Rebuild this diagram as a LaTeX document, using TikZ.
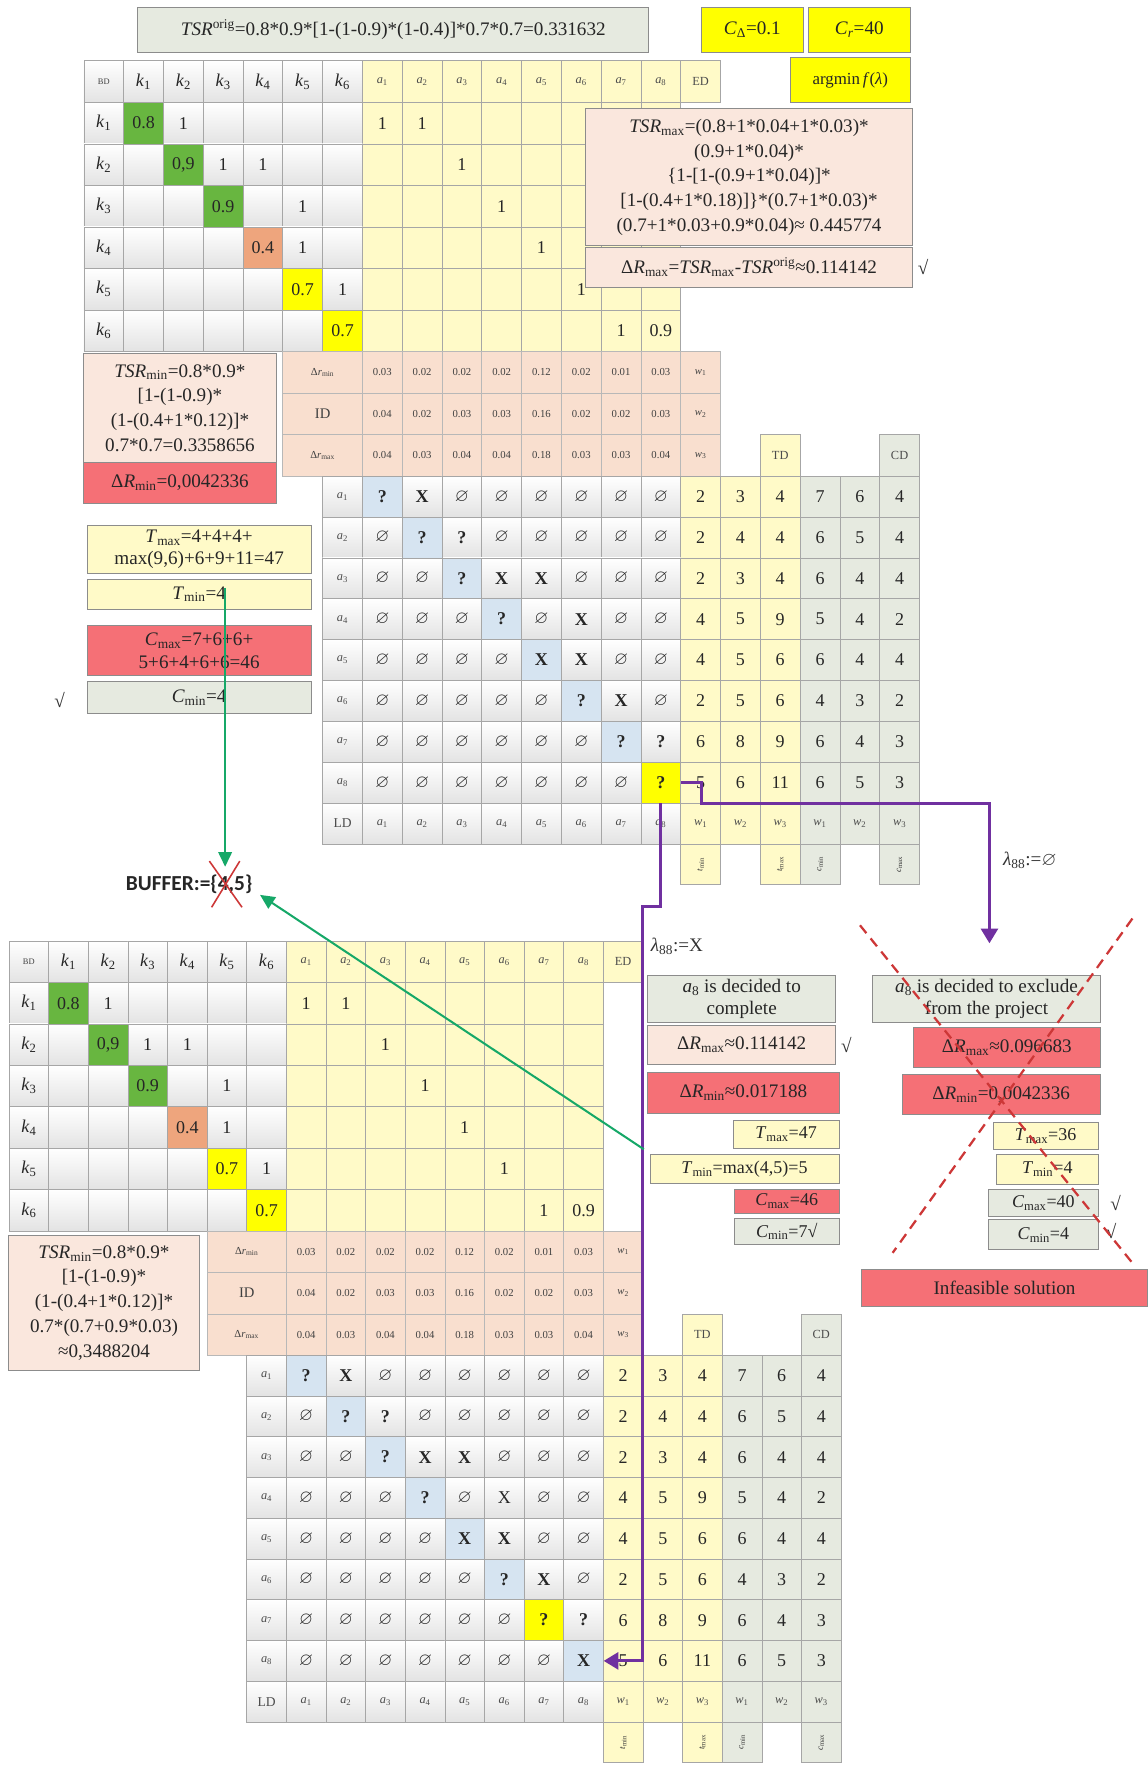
\documentclass[tikz,border=0pt]{standalone}
\usepackage{fontspec}
\usepackage{amssymb}
\setmainfont{Liberation Serif}
\newfontfamily\buffont{Carlito}
\usetikzlibrary{arrows.meta,calc}
\definecolor{cgreen}{RGB}{104,182,64}
\definecolor{corange}{RGB}{238,165,125}
\definecolor{cyel}{RGB}{255,255,0}
\definecolor{lyel}{RGB}{255,250,200}
\definecolor{peach}{RGB}{249,223,207}
\definecolor{peachL}{RGB}{250,231,221}
\definecolor{cred}{RGB}{245,112,118}
\definecolor{cgray}{RGB}{230,234,224}
\definecolor{cblue}{RGB}{214,228,241}
\definecolor{cpurple}{RGB}{112,48,160}
\definecolor{cgl}{RGB}{22,168,104}
\definecolor{cdash}{RGB}{205,55,55}
\newcommand\sbs[1]{\textsubscript{#1}}
\newcommand\dq{\textbf{?}}
\newcommand\dx{\textbf{X}}
\newcommand\dxl{X}
\newcommand\de{$\varnothing$}
\tikzset{
  gcell/.style={draw=black!35,line width=0.6pt,top color=white,bottom color=black!11,inner sep=0pt},
  ycell/.style={draw=black!35,line width=0.6pt,fill=lyel,inner sep=0pt},
  pcell/.style={draw=black!28,line width=0.6pt,fill=peach,inner sep=0pt},
  ccell/.style={draw=black!35,line width=0.6pt,fill=cgray,inner sep=0pt},
  solid/.style={draw=black!35,line width=0.6pt,inner sep=0pt},
  big/.style={font=\fontsize{16}{16}\selectfont,text=black!85,inner sep=0pt},
  sml/.style={font=\fontsize{11}{11}\selectfont,text=black!70,inner sep=0pt},
  tny/.style={font=\fontsize{9.5}{9.5}\selectfont,text=black!75,inner sep=0pt},
  rot/.style={font=\fontsize{8}{8}\selectfont,text=black!80,rotate=90,inner sep=0pt},
  box/.style={draw=black!45,line width=0.8pt,inner sep=0pt,align=center,text=black!85,font=\fontsize{17}{22}\selectfont},
  purp/.style={draw=cpurple,line width=2.6pt,-{Triangle[length=13pt,width=15pt]}},
  grn/.style={draw=cgl,line width=1.8pt,-{Triangle[length=13pt,width=12pt]}},
  crossl/.style={draw=cdash,line width=2pt,dash pattern=on 9pt off 6pt},
  lbl/.style={font=\fontsize{17}{17}\selectfont,text=black!80,inner sep=0pt},
}
\newcommand\mkcell[5]{%
  \pgfmathsetmacro\cx{\XO+(#2+0.5)*\CW}%
  \pgfmathsetmacro\cy{#3+0.5*#4}%
  \pgfmathsetmacro\hh{#4}%
  \node[#5,minimum width=\CW pt,minimum height=\hh pt] (#1) at (\cx,\cy) {};}
\newcommand\bx[7]{%
  \pgfmathsetmacro\bw{#4-#2}\pgfmathsetmacro\bh{#5-#3}%
  \node[box,#6,minimum width=\bw pt,minimum height=\bh pt,anchor=north west] (#1) at (#2,#3) {#7};}
\newcommand\drrow[4]{%
  \pgfmathsetmacro\yt{\YO+#1*\RH}%
  \pgfmathsetmacro\lx{\XO+6*\CW}\pgfmathsetmacro\lw{2*\CW}\pgfmathsetmacro\cyy{\yt+0.5*\RH}%
  \node[pcell,minimum width=\lw pt,minimum height=\RH pt] (\pfx-r#1-L) at (\lx,\cyy) {};%
  \node[tny] at (\pfx-r#1-L) {#2};%
  \foreach \vv [count=\j from 7] in {#4} {\mkcell{\pfx-r#1-\j}{\j}{\yt}{\RH}{pcell}\node[tny] at (\pfx-r#1-\j) {\vv};}%
  \mkcell{\pfx-r#1-15}{15}{\yt}{\RH}{pcell}\node[tny] at (\pfx-r#1-15) {\textit{w}\sbs{#3}};}
\newcommand\dsmrow[2]{\foreach \vv [count=\j from 7] in {#2} {\node[big] at (\pfx-d#1-\j) {\vv};}}
\newcommand\drawsection{%
  \foreach \r in {0,...,6}{%
    \pgfmathsetmacro\yt{\YO+\r*\RH}%
    \foreach \c in {0,...,6}{\mkcell{\pfx-r\r-\c}{\c}{\yt}{\RH}{gcell}}%
    \foreach \c in {7,...,14}{\mkcell{\pfx-r\r-\c}{\c}{\yt}{\RH}{ycell}}%
  }%
  \mkcell{\pfx-r0-15}{15}{\YO}{\RH}{ycell}%
  \mkcell{\pfx-g1}{1}{\YO+1*\RH}{\RH}{solid,fill=cgreen}%
  \mkcell{\pfx-g2}{2}{\YO+2*\RH}{\RH}{solid,fill=cgreen}%
  \mkcell{\pfx-g3}{3}{\YO+3*\RH}{\RH}{solid,fill=cgreen}%
  \mkcell{\pfx-g4}{4}{\YO+4*\RH}{\RH}{solid,fill=corange}%
  \mkcell{\pfx-g5}{5}{\YO+5*\RH}{\RH}{solid,fill=cyel}%
  \mkcell{\pfx-g6}{6}{\YO+6*\RH}{\RH}{solid,fill=cyel}%
  \node[tny] at (\pfx-r0-0) {\fontsize{7.5}{8}\selectfont BD};%
  \foreach \c in {1,...,6}{\node[big] at (\pfx-r0-\c) {\textit{k}\sbs{\c}};\node[big] at (\pfx-r\c-0) {\textit{k}\sbs{\c}};}%
  \foreach \c [evaluate=\c as \n using int(\c-6)] in {7,...,14}{\node[sml] at (\pfx-r0-\c) {\textit{a}\sbs{\n}};}%
  \node[sml] at (\pfx-r0-15) {ED};%
  \foreach \r/\c/\tv in {1/1/0.8,1/2/1,1/7/1,1/8/1,2/2/{0,9},2/3/1,2/4/1,2/9/1,3/3/0.9,3/5/1,3/10/1,4/4/0.4,4/5/1,4/11/1,5/5/0.7,5/6/1,5/12/1,6/6/0.7,6/13/1,6/14/0.9}{\node[big] at (\pfx-r\r-\c) {\tv};}%
  \drrow{7}{Δ\textit{r}\sbs{min}}{1}{0.03,0.02,0.02,0.02,0.12,0.02,0.01,0.03}%
  \drrow{8}{\fontsize{13}{13}\selectfont ID}{2}{0.04,0.02,0.03,0.03,0.16,0.02,0.02,0.03}%
  \drrow{9}{Δ\textit{r}\sbs{max}}{3}{0.04,0.03,0.04,0.04,0.18,0.03,0.03,0.04}%
  \mkcell{\pfx-TD}{17}{\YO+9*\RH}{\RH}{ycell}\node[sml] at (\pfx-TD) {TD};%
  \mkcell{\pfx-CD}{20}{\YO+9*\RH}{\RH}{ccell}\node[sml] at (\pfx-CD) {CD};%
  \foreach \i in {1,...,9}{%
    \pgfmathsetmacro\yt{\YA+(\i-1)*\AH}%
    \foreach \c in {6,...,14}{\mkcell{\pfx-d\i-\c}{\c}{\yt}{\AH}{gcell}}%
    \foreach \c in {15,16,17}{\mkcell{\pfx-d\i-\c}{\c}{\yt}{\AH}{ycell}}%
    \foreach \c in {18,19,20}{\mkcell{\pfx-d\i-\c}{\c}{\yt}{\AH}{ccell}}%
  }%
  \pgfmathsetmacro\yt{\YA+9*\AH}%
  \mkcell{\pfx-d10-15}{15}{\yt}{\AH}{ycell}%
  \mkcell{\pfx-d10-17}{17}{\yt}{\AH}{ycell}%
  \mkcell{\pfx-d10-18}{18}{\yt}{\AH}{ccell}%
  \mkcell{\pfx-d10-20}{20}{\yt}{\AH}{ccell}%
  \foreach \i in {1,...,8}{\pgfmathsetmacro\yt{\YA+(\i-1)*\AH}\mkcell{\pfx-dg\i}{\i+6}{\yt}{\AH}{solid,fill=cblue}}%
  \pgfmathsetmacro\yt{\YA+(\hlrow-1)*\AH}%
  \mkcell{\pfx-hl}{\hlrow+6}{\yt}{\AH}{solid,fill=cyel}%
  \foreach \i in {1,...,8}{\node[sml] at (\pfx-d\i-6) {\textit{a}\sbs{\i}};}%
  \node[sml,font=\fontsize{12}{12}\selectfont] at (\pfx-d9-6) {LD};%
  \foreach \c [evaluate=\c as \n using int(\c-6)] in {7,...,14}{\node[sml] at (\pfx-d9-\c) {\textit{a}\sbs{\n}};}%
  \foreach \ww [count=\c from 15] in {1,2,3,1,2,3}{\node[sml] at (\pfx-d9-\c) {\textit{w}\sbs{\ww}};}%
  \dsmrow{1}{\dq,\dx,\de,\de,\de,\de,\de,\de,2,3,4,7,6,4}%
  \dsmrow{2}{\de,\dq,\dq,\de,\de,\de,\de,\de,2,4,4,6,5,4}%
  \dsmrow{3}{\de,\de,\dq,\dx,\dx,\de,\de,\de,2,3,4,6,4,4}%
  \dsmrow{4}{\de,\de,\de,\dq,\de,\symfoursix,\de,\de,4,5,9,5,4,2}%
  \dsmrow{5}{\de,\de,\de,\de,\dx,\dx,\de,\de,4,5,6,6,4,4}%
  \dsmrow{6}{\de,\de,\de,\de,\de,\dq,\dx,\de,2,5,6,4,3,2}%
  \dsmrow{7}{\de,\de,\de,\de,\de,\de,\dq,\dq,6,8,9,6,4,3}%
  \dsmrow{8}{\de,\de,\de,\de,\de,\de,\de,\symeight,5,6,11,6,5,3}%
  \node[rot] at (\pfx-d10-15) {\textit{t}\sbs{min}};%
  \node[rot] at (\pfx-d10-17) {\textit{t}\sbs{max}};%
  \node[rot] at (\pfx-d10-18) {\textit{c}\sbs{min}};%
  \node[rot] at (\pfx-d10-20) {\textit{c}\sbs{max}};%
}
\begin{document}
\begin{tikzpicture}[x=1pt,y=-1pt]
\useasboundingbox (0,0) rectangle (1019,1568);
\fill[white] (0,0) rectangle (1019,1568);
% ---------- top section
\def\pfx{T}\def\XO{74.5}\def\CW{35.35}\def\YO{54}\def\RH{36.9}\def\YA{423}\def\AH{36.3}
\def\hlrow{8}\def\symeight{\dq}\def\symfoursix{\dx}
\drawsection
% ---------- bottom section
\def\pfx{B}\def\XO{8}\def\CW{35.2}\def\YO{836}\def\RH{36.8}\def\YA{1204}\def\AH{36.2}
\def\hlrow{7}\def\symeight{\dx}\def\symfoursix{\dxl}
\drawsection
% ---------- top boxes
\bx{tsrorig}{122}{6}{576}{46}{fill=cgray}{\textit{TSR}\textsuperscript{orig}=0.8*0.9*[1-(1-0.9)*(1-0.4)]*0.7*0.7=0.331632}
\bx{cdelta}{623}{6}{713}{46}{fill=cyel}{\textit{C}\sbs{Δ}=0.1}
\bx{cr}{718}{6}{808}{46}{fill=cyel}{\textit{C}\sbs{\textit{r}}=40}
\bx{argmin}{702}{51}{808}{91}{fill=cyel,font=\fontsize{15}{15}\selectfont}{argmin\,\textit{f}(\textit{λ})}
\bx{tsrmax}{520}{96}{810}{218}{fill=peachL}{\textit{TSR}\sbs{max}=(0.8+1*0.04+1*0.03)*\\(0.9+1*0.04)*\\\{1-[1-(0.9+1*0.04)]*\\{[}1-(0.4+1*0.18)]\}*(0.7+1*0.03)*\\(0.7+1*0.03+0.9*0.04)≈ 0.445774}
\bx{drmaxT}{520}{219}{810}{255}{fill=peachL}{Δ\textit{R}\sbs{max}=\textit{TSR}\sbs{max}-\textit{TSR}\textsuperscript{orig}≈0.114142}
\node[lbl] (ck1) at (820,237) {√};
\bx{tsrminT}{74}{314}{245}{410}{fill=peachL}{\textit{TSR}\sbs{min}=0.8*0.9*\\{[}1-(1-0.9)*\\(1-(0.4+1*0.12)]*\\0.7*0.7=0.3358656}
\bx{drminT}{74}{410}{245}{447}{fill=cred}{Δ\textit{R}\sbs{min}=0,0042336}
\bx{tmaxL}{77}{466}{276}{509}{fill=lyel,font=\fontsize{17}{20}\selectfont}{\textit{T}\sbs{max}=4+4+4+\\max(9,6)+6+9+11=47}
\bx{tminL}{77}{514}{276}{541}{fill=lyel}{\textit{T}\sbs{min}=4}
\bx{cmaxL}{77}{555}{276}{600}{fill=cred,font=\fontsize{17}{20}\selectfont}{\textit{C}\sbs{max}=7+6+6+\\5+6+4+6+6=46}
\bx{cminL}{77}{605}{276}{633}{fill=cgray}{\textit{C}\sbs{min}=4}
\node[lbl] (ck2) at (53,622) {√};
% ---------- buffer
\node[font={\buffont\bfseries\fontsize{19}{19}\selectfont},text=black!85,inner sep=0pt] (buf) at (168,786) {BUFFER:=\{4,5\}};
\draw[cdash,line width=1.4pt] (186,765) -- (215,806) (213,765) -- (188,806);
% ---------- bottom left box
\bx{tsrminB}{7}{1097}{177}{1217}{fill=peachL}{\textit{TSR}\sbs{min}=0.8*0.9*\\{[}1-(1-0.9)*\\(1-(0.4+1*0.12)]*\\0.7*(0.7+0.9*0.03)\\≈0,3488204}
% ---------- middle boxes
\bx{compl}{575}{866}{742}{908}{fill=cgray,font=\fontsize{17}{19}\selectfont}{\textit{a}\sbs{8} is decided to\\complete}
\bx{drmaxM}{575}{911}{742}{945}{fill=peachL}{Δ\textit{R}\sbs{max}≈0.114142}
\node[lbl] (ck3) at (752,928) {√};
\bx{drminM}{575}{952}{745}{989}{fill=cred}{Δ\textit{R}\sbs{min}≈0.017188}
\bx{tmaxM}{651}{995}{745}{1020}{fill=lyel,font=\fontsize{16}{16}\selectfont}{\textit{T}\sbs{max}=47}
\bx{tminM}{577}{1025}{745}{1051}{fill=lyel,font=\fontsize{16}{16}\selectfont}{\textit{T}\sbs{min}=max(4,5)=5}
\bx{cmaxM}{652}{1056}{745}{1078}{fill=cred,font=\fontsize{16}{16}\selectfont}{\textit{C}\sbs{max}=46}
\bx{cminM}{652}{1082}{745}{1105}{fill=cgray,font=\fontsize{16}{16}\selectfont}{\textit{C}\sbs{min}=7√}
% ---------- right boxes
\bx{excl}{775}{866}{977}{908}{fill=cgray,font=\fontsize{17}{19}\selectfont}{\textit{a}\sbs{8} is decided to exclude\\from the project}
\bx{drmaxR}{811}{912}{977}{948}{fill=cred}{Δ\textit{R}\sbs{max}≈0.096683}
\bx{drminR}{801}{954}{977}{990}{fill=cred}{Δ\textit{R}\sbs{min}=0,0042336}
\bx{tmaxR}{882}{997}{975}{1021}{fill=lyel,font=\fontsize{16}{16}\selectfont}{\textit{T}\sbs{max}=36}
\bx{tminR}{885}{1025}{975}{1052}{fill=lyel,font=\fontsize{16}{16}\selectfont}{\textit{T}\sbs{min}=4}
\bx{cmaxR}{878}{1056}{975}{1080}{fill=cgray,font=\fontsize{16}{16}\selectfont}{\textit{C}\sbs{max}=40}
\bx{cminR}{878}{1083}{975}{1110}{fill=cgray,font=\fontsize{16}{16}\selectfont}{\textit{C}\sbs{min}=4}
\node[lbl] (ck4) at (991,1069) {√};
\node[lbl] (ck5) at (987,1094) {√};
\bx{infeas}{765}{1127}{1019}{1160}{fill=cred}{Infeasible solution}
\draw[crossl] (764,822) -- (1006,1122);
\draw[crossl] (1006,816) -- (793,1113);
% ---------- lambda labels
\node[lbl,anchor=west] (lamX) at (578,841) {\textit{λ}\sbs{88}:=X};
\node[lbl,anchor=west] (lamE) at (891,764) {\textit{λ}\sbs{88}:=\de};
% ---------- connectors
\coordinate (pA) at ($(T-d8-14.east)+(18,0)$);
\coordinate (pC) at (879,713.4);
\coordinate (pD) at (879,838);
\draw[purp] (T-d8-14.east) -- (pA) |- (pC) -- (pD);
\coordinate (pF) at (571,805);
\draw[purp] (T-d8-14.south) |- (pF) -- (pF |- B-d8-14.east) -- (B-d8-14.east);
\coordinate (g1s) at (200,522);
\coordinate (g1e) at (200,770);
\draw[grn] (g1s) -- (g1e);
\coordinate (g2s) at (572,1021);
\coordinate (g2e) at (231,795);
\draw[grn] (g2s) -- (g2e);
\end{tikzpicture}
\end{document}
